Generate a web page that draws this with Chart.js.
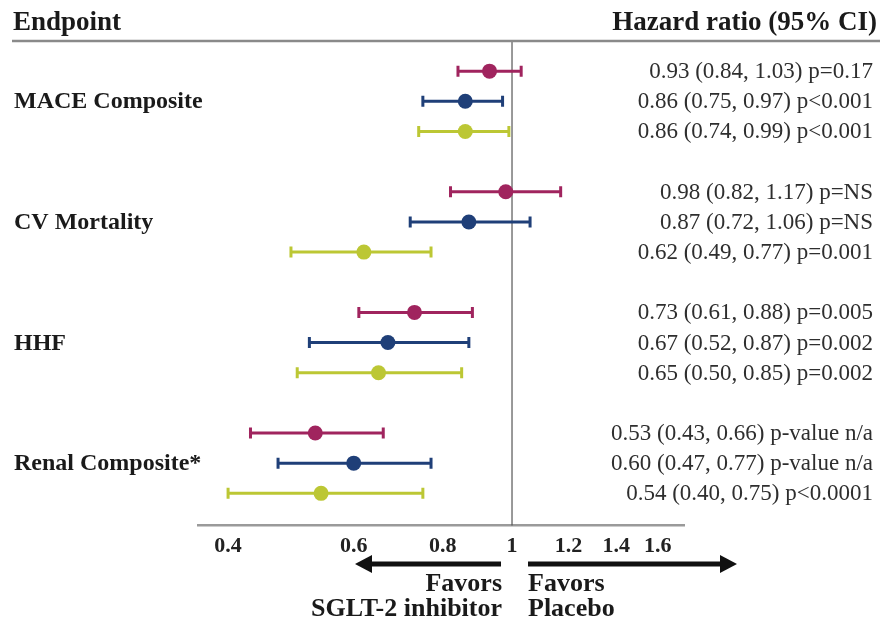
<!DOCTYPE html>
<html>
<head>
    <title>SGLT-2 inhibitor outcomes</title>
    <script src="https://cdn.jsdelivr.net/npm/chart.js"></script>
    <style>
        body {
            margin: 0;
            background: #fff;
        }
        #wrap {
            width: 880px;
            height: 621px;
        }
    </style>
</head>
<body>
    <div id="wrap"><canvas id="forest" width="880" height="621"></canvas></div>

    <script>
        const endpoints = ["MACE Composite", "CV Mortality", "HHF", "Renal Composite*"];
        const xTicks = [0.4, 0.6, 0.8, 1, 1.2, 1.4, 1.6];

        // three trials per endpoint (top / middle / bottom row)
        const hr1 = [0.93, 0.98, 0.73, 0.53];
        const lo1 = [0.84, 0.82, 0.61, 0.43];
        const hi1 = [1.03, 1.17, 0.88, 0.66];
        const p1 = ["p=0.17", "p=NS", "p=0.005", "p-value n/a"];

        const hr2 = [0.86, 0.87, 0.67, 0.60];
        const lo2 = [0.75, 0.72, 0.52, 0.47];
        const hi2 = [0.97, 1.06, 0.87, 0.77];
        const p2 = ["p<0.001", "p=NS", "p=0.002", "p-value n/a"];

        const hr3 = [0.86, 0.62, 0.65, 0.54];
        const lo3 = [0.74, 0.49, 0.50, 0.40];
        const hi3 = [0.99, 0.77, 0.85, 0.75];
        const p3 = ["p<0.001", "p=0.001", "p=0.002", "p<0.0001"];

        const colors = ["#a0245e", "#1f3f78", "#bcc734"];
        const SERIF = "'Liberation Serif', 'DejaVu Serif', serif";

        const series = [
            { hr: hr1, lo: lo1, hi: hi1, p: p1 },
            { hr: hr2, lo: lo2, hi: hi2, p: p2 },
            { hr: hr3, lo: lo3, hi: hi3, p: p3 }
        ];

        function rowOf(g, s) { return g * 4 + s; }
        function fmt(v) { return v.toFixed(2); }

        const datasets = series.map((sr, s) => ({
            label: "series " + (s + 1),
            data: sr.hr.map((v, g) => ({ x: v, y: rowOf(g, s) })),
            lo: sr.lo,
            hi: sr.hi,
            backgroundColor: colors[s],
            borderColor: colors[s],
            pointRadius: 7.5,
            pointHoverRadius: 7.5,
            borderWidth: 0
        }));

        function arrow(ctx, from, tip, y) {
            const dir = tip > from ? 1 : -1;
            ctx.beginPath();
            ctx.moveTo(from, y);
            ctx.lineTo(tip - dir * 12, y);
            ctx.stroke();
            ctx.beginPath();
            ctx.moveTo(tip, y);
            ctx.lineTo(tip - dir * 17, y - 9);
            ctx.lineTo(tip - dir * 17, y + 9);
            ctx.closePath();
            ctx.fill();
        }

        // whiskers, reference line, texts and arrows
        const forestPlugin = {
            id: "forest",
            beforeDatasetsDraw(chart) {
                const ctx = chart.ctx;
                const x = chart.scales.x, y = chart.scales.y;
                const area = chart.chartArea;

                // line of no effect
                ctx.save();
                ctx.strokeStyle = "#555";
                ctx.lineWidth = 1.2;
                ctx.beginPath();
                ctx.moveTo(x.getPixelForValue(1), area.top);
                ctx.lineTo(x.getPixelForValue(1), area.bottom);
                ctx.stroke();

                chart.data.datasets.forEach(ds => {
                    ctx.strokeStyle = ds.borderColor;
                    ctx.lineWidth = 3;
                    ds.data.forEach((pt, i) => {
                        const py = y.getPixelForValue(pt.y);
                        const xl = x.getPixelForValue(ds.lo[i]);
                        const xr = x.getPixelForValue(ds.hi[i]);
                        ctx.beginPath();
                        ctx.moveTo(xl, py);
                        ctx.lineTo(xr, py);
                        ctx.moveTo(xl, py - 5.5);
                        ctx.lineTo(xl, py + 5.5);
                        ctx.moveTo(xr, py - 5.5);
                        ctx.lineTo(xr, py + 5.5);
                        ctx.stroke();
                    });
                });
                ctx.restore();
            },
            afterDraw(chart) {
                const ctx = chart.ctx;
                const x = chart.scales.x, y = chart.scales.y;
                const area = chart.chartArea;
                ctx.save();

                // header
                ctx.fillStyle = "#1a1a1a";
                ctx.font = "bold 27px " + SERIF;
                ctx.textBaseline = "alphabetic";
                ctx.textAlign = "left";
                ctx.fillText("Endpoint", 13, 30);
                ctx.textAlign = "right";
                ctx.fillText("Hazard ratio (95% CI)", 877, 30);
                ctx.strokeStyle = "#8a8a8a";
                ctx.lineWidth = 2.5;
                ctx.beginPath();
                ctx.moveTo(12, area.top);
                ctx.lineTo(880, area.top);
                ctx.stroke();

                // endpoint names
                ctx.textBaseline = "alphabetic";
                ctx.textAlign = "left";
                ctx.font = "bold 24px " + SERIF;
                endpoints.forEach((name, g) => {
                    ctx.fillText(name, 14, y.getPixelForValue(rowOf(g, 1)) + 7);
                });

                // estimates
                ctx.textAlign = "right";
                ctx.font = "23px " + SERIF;
                ctx.fillStyle = "#2e2e2e";
                series.forEach((sr, s) => {
                    sr.hr.forEach((v, g) => {
                        const txt = fmt(v) + " (" + fmt(sr.lo[g]) + ", " + fmt(sr.hi[g]) + ") " + sr.p[g];
                        ctx.fillText(txt, 873, y.getPixelForValue(rowOf(g, s)) + 7);
                    });
                });

                // favors arrows
                const ay = 564;
                const x1 = x.getPixelForValue(1);
                ctx.fillStyle = "#111";
                ctx.strokeStyle = "#111";
                ctx.lineWidth = 5;
                arrow(ctx, x1 - 11, 355, ay);
                arrow(ctx, x1 + 16, 737, ay);

                ctx.font = "bold 26px " + SERIF;
                ctx.fillStyle = "#1a1a1a";
                ctx.textBaseline = "alphabetic";
                ctx.textAlign = "right";
                ctx.fillText("Favors", x1 - 10, 591);
                ctx.fillText("SGLT-2 inhibitor", x1 - 10, 616);
                ctx.textAlign = "left";
                ctx.fillText("Favors", x1 + 16, 591);
                ctx.fillText("Placebo", x1 + 16, 616);
                ctx.restore();
            }
        };

        new Chart(document.getElementById("forest"), {
            type: "scatter",
            data: { datasets: datasets },
            options: {
                responsive: false,
                animation: false,
                layout: { padding: { left: 198, right: 196, top: 41, bottom: 53 } },
                plugins: {
                    legend: { display: false },
                    tooltip: { enabled: false }
                },
                scales: {
                    x: {
                        type: "logarithmic",
                        min: 0.363,
                        max: 1.742,
                        afterBuildTicks: scale => {
                            scale.ticks = xTicks.map(v => ({ value: v }));
                        },
                        grid: { display: false, drawTicks: false },
                        border: { display: true, color: "#9a9a9a", width: 2.5 },
                        ticks: {
                            autoSkip: false,
                            maxRotation: 0,
                            padding: 8,
                            color: "#222",
                            font: { family: SERIF, size: 22, weight: "bold" },
                            callback: v => String(v)
                        }
                    },
                    y: {
                        type: "linear",
                        display: false,
                        reverse: true,
                        min: -1.0,
                        max: 15.07
                    }
                }
            },
            plugins: [forestPlugin]
        });
    </script>
</body>
</html>
